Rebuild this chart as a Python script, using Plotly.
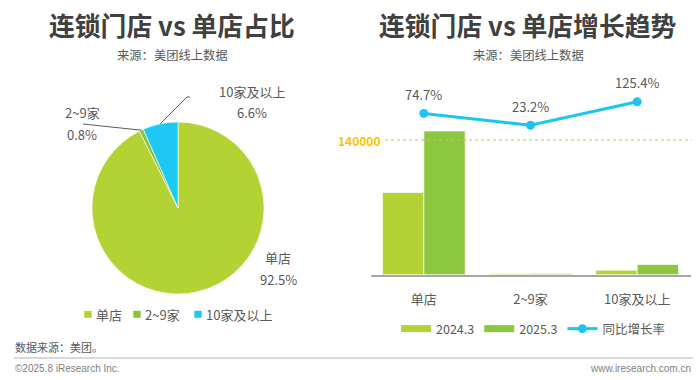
import numpy as np
import plotly.graph_objects as go

# ---------------- data ----------------
pie_labels = ["单店", "2~9家", "10家及以上"]
pie_share = [92.5, 0.8, 6.6]
pie_text = ["92.5%", "0.8%", "6.6%"]

categories = ["单店", "2~9家", "10家及以上"]
v2024 = [85500, 1050, 4730]
v2025 = [149400, 1290, 10660]
growth = [74.7, 23.2, 125.4]
growth_text = ["74.7%", "23.2%", "125.4%"]
ref_value = 140000
series_names = ["2024.3", "2025.3", "同比增长率"]

# ---------------- style ----------------
W, H = 700, 380
FONT = "Noto Sans CJK SC, Microsoft YaHei, sans-serif"
C_TITLE = "#404040"
C_TEXT = "#595959"
C_PIE = ["#B3D234", "#8CC43F", "#1DC8F2"]
C_24 = "#B3D234"
C_25 = "#8DC63F"
C_LINE = "#1BC5F0"
C_GOLD = "#FFC000"


def px(x):
    return x / W


def py(y):
    return 1 - y / H


fig = go.Figure()

# pie
pcx, pcy, pr = 178, 208, 86
fig.add_trace(go.Pie(
    labels=pie_labels, values=pie_share, sort=False, direction="clockwise",
    rotation=0, textinfo="none", hoverinfo="label+percent",
    marker=dict(colors=C_PIE, line=dict(color="white", width=0.6)),
    domain=dict(x=[px(pcx - pr), px(pcx + pr)], y=[py(pcy + pr), py(pcy - pr)]),
    showlegend=False,
))

# bars
bar_line = dict(color="rgba(255,255,255,0.7)", width=1)
fig.add_trace(go.Bar(x=categories, y=v2024, name=series_names[0], marker=dict(color=C_24, line=bar_line),
                     showlegend=False, xaxis="x", yaxis="y"))
fig.add_trace(go.Bar(x=categories, y=v2025, name=series_names[1], marker=dict(color=C_25, line=bar_line),
                     showlegend=False, xaxis="x", yaxis="y"))
# legend swatches for bars
for nm, col in zip(series_names[:2], [C_24, C_25]):
    fig.add_trace(go.Scatter(x=[None], y=[None], mode="lines", name=nm,
                             line=dict(color=col, width=7), legend="legend", hoverinfo="skip"))
# growth line
fig.add_trace(go.Scatter(x=categories, y=growth, name=series_names[2], mode="lines+markers",
                         line=dict(color=C_LINE, width=3), marker=dict(size=9, color=C_LINE),
                         xaxis="x", yaxis="y2", legend="legend"))

annotations = []
shapes = []

# titles
for cx, t, s in [(172, "连锁门店 vs 单店占比", "来源：美团线上数据"),
                 (528, "连锁门店 vs 单店增长趋势", "来源：美团线上数据")]:
    annotations.append(dict(x=px(cx), y=py(25), xref="paper", yref="paper", text="<b>" + t + "</b>",
                            showarrow=False, xanchor="center", yanchor="middle",
                            font=dict(family=FONT, size=25.8, color=C_TITLE)))
    annotations.append(dict(x=px(cx), y=py(55), xref="paper", yref="paper", text=s,
                            showarrow=False, xanchor="center", yanchor="middle",
                            font=dict(family=FONT, size=12.3, color=C_TEXT)))

# pie labels and leader lines
cum = np.cumsum([0] + pie_share[:-1])
total = sum(pie_share)
mid_ang = [(c + v / 2) / total * 2 * np.pi for c, v in zip(cum, pie_share)]
edge = [(pcx + pr * np.sin(a), pcy - pr * np.cos(a)) for a in mid_ang]

label_pos = {0: (278, 257, 279), 1: (82, 113, 134), 2: (252, 92, 113)}
for i, (lx, ly1, ly2) in label_pos.items():
    annotations.append(dict(x=px(lx), y=py(ly1), xref="paper", yref="paper", text=pie_labels[i],
                            showarrow=False, xanchor="center", yanchor="middle",
                            font=dict(family=FONT, size=13, color=C_TEXT)))
    annotations.append(dict(x=px(lx), y=py(ly2), xref="paper", yref="paper", text=pie_text[i],
                            showarrow=False, xanchor="center", yanchor="middle",
                            font=dict(family=FONT, size=13, color=C_TEXT)))

ex, ey = edge[2]
shapes.append(dict(type="path", xref="paper", yref="paper",
                   path=f"M{px(ex)},{py(ey)} L{px(187)},{py(97)} L{px(190)},{py(97)}",
                   line=dict(color=C_TEXT, width=1)))
ex, ey = edge[1]
shapes.append(dict(type="line", xref="paper", yref="paper",
                   x0=px(ex), y0=py(ey), x1=px(83), y1=py(124),
                   line=dict(color=C_TEXT, width=1)))

# pie legend (small squares + labels)
pie_leg_sq = [88, 137, 198]
for lab, col, sx in zip(pie_labels, C_PIE, pie_leg_sq):
    shapes.append(dict(type="rect", xref="paper", yref="paper", x0=px(sx - 3.7), x1=px(sx + 3.7),
                       y0=py(314.3 + 3.5), y1=py(314.3 - 3.5), fillcolor=col, line=dict(width=0)))
    annotations.append(dict(x=px(sx + 5.5), y=py(314.3), xref="paper", yref="paper", text=lab,
                            showarrow=False, xanchor="left", yanchor="middle",
                            font=dict(family=FONT, size=13, color=C_TEXT)))

# growth labels
for c, g, t in zip(categories, growth, growth_text):
    annotations.append(dict(x=c, y=g, xref="x", yref="y2", text=t, showarrow=False,
                            xanchor="center", yanchor="middle", yshift=19,
                            font=dict(family=FONT, size=13, color=C_TEXT)))

# reference line 140000
annotations.append(dict(x=px(382), y=ref_value, xref="paper", yref="y", text="<b>140000</b>",
                        showarrow=False, xanchor="right", yanchor="middle",
                        font=dict(family=FONT, size=12, color=C_GOLD)))
shapes.append(dict(type="line", xref="paper", yref="y", x0=px(385), x1=px(692),
                   y0=ref_value, y1=ref_value, line=dict(color="#D9B850", width=1, dash="dot")))

# footer
annotations.append(dict(x=px(13), y=py(347), xref="paper", yref="paper", text="数据来源：美团。",
                        showarrow=False, xanchor="left", yanchor="middle",
                        font=dict(family=FONT, size=11, color=C_TEXT)))
annotations.append(dict(x=px(13), y=py(368), xref="paper", yref="paper", text="©2025.8 iResearch Inc.",
                        showarrow=False, xanchor="left", yanchor="middle",
                        font=dict(family="Liberation Sans, Arial", size=10, color="#7F7F7F")))
annotations.append(dict(x=px(693), y=py(368), xref="paper", yref="paper", text="www.iresearch.com.cn",
                        showarrow=False, xanchor="right", yanchor="middle",
                        font=dict(family="Liberation Sans, Arial", size=10, color="#7F7F7F")))
shapes.append(dict(type="line", xref="paper", yref="paper", x0=px(14), x1=px(693), y0=py(358), y1=py(358),
                   line=dict(color="#D9D9D9", width=2)))

plot_top, plot_bot = 80, 274.7
fig.update_layout(
    width=W, height=H, margin=dict(l=0, r=0, t=0, b=0),
    paper_bgcolor="white", plot_bgcolor="white",
    font=dict(family=FONT, color=C_TEXT),
    barmode="group", bargap=0.225, bargroupgap=0,
    xaxis=dict(domain=[px(370.5), px(690.5)], type="category", showline=True, linecolor="#A6A6A6",
               linewidth=1.5, ticks="", showgrid=False, tickfont=dict(family=FONT, size=13, color=C_TEXT),
               ticklabelstandoff=12, fixedrange=True),
    yaxis=dict(domain=[py(plot_bot), py(plot_top)], range=[0, 202360], showgrid=False, showticklabels=False,
               zeroline=False, ticks="", fixedrange=True),
    yaxis2=dict(domain=[py(plot_bot), py(plot_top)], overlaying="y", range=[-623.8, 219.4], showgrid=False,
                showticklabels=False, zeroline=False, ticks="", fixedrange=True),
    legend=dict(orientation="h", x=px(396), y=py(329), xanchor="left", yanchor="middle",
                font=dict(family=FONT, size=12.5, color=C_TEXT), bgcolor="rgba(0,0,0,0)",
                itemclick=False, itemdoubleclick=False),
    annotations=annotations, shapes=shapes, showlegend=True,
)

fig.write_html("out.html", config={"displayModeBar": False},
               post_script="document.body.style.margin='0';")
